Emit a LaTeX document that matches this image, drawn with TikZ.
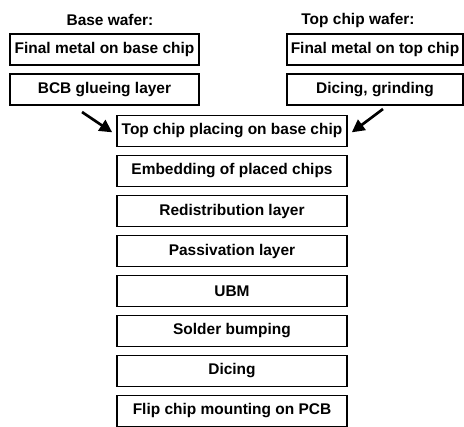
\documentclass[tikz,border=0pt]{standalone}
\usepackage{fontspec}
\setmainfont{Liberation Sans}
\usepackage{tikz}
\usetikzlibrary{arrows.meta,positioning}

\begin{document}
\begin{tikzpicture}[
        x=0.75pt, y=-0.75pt,
        node distance=5.4pt,
        box/.style={rectangle, draw, line width=1.2pt, minimum width=172.5pt,
                    minimum height=23.4pt, inner xsep=1pt, align=center,
                    font=\fontsize{11.6}{14}\selectfont\bfseries},
        head/.style={font=\fontsize{11.6}{14}\selectfont\bfseries},
        arrow/.style={-{Triangle[length=9.5pt, width=9.5pt]}, line width=2pt}
    ]
        \useasboundingbox (0,0) rectangle (464,426);

        % base wafer
        \node[head] (basehead) at (110,20) {Base wafer:};
        \node[box, minimum width=141.75pt] (basemetal) at (104.5,49.5) {Final metal on base chip};
        \node[box, minimum width=141.75pt, below=of basemetal] (bcb) {BCB glueing layer};

        % top chip wafer
        \node[head] (tophead) at (358,20) {Top chip wafer:};
        \node[box, minimum width=132pt] (topmetal) at (375,49.5) {Final metal on top chip};
        \node[box, minimum width=132pt, below=of topmetal] (dicegrind) {Dicing, grinding};

        % main flow
        \node[box] (place) at (232,131) {Top chip placing on base chip};
        \node[box, below=of place] (embed) {Embedding of placed chips};
        \node[box, below=of embed] (rdl) {Redistribution layer};
        \node[box, below=of rdl] (passiv) {Passivation layer};
        \node[box, below=of passiv] (ubm) {UBM};
        \node[box, below=of ubm] (bump) {Solder bumping};
        \node[box, below=of bump] (dicing) {Dicing};
        \node[box, below=of dicing] (flip) {Flip chip mounting on PCB};

        \coordinate (leftin) at (82,112);
        \coordinate (rightin) at (383,109);
        \draw[arrow] (leftin) -- ([xshift=-3pt,yshift=-1pt]place.west);
        \draw[arrow] (rightin) -- ([xshift=3pt,yshift=-1pt]place.east);
    \end{tikzpicture}
\end{document}
